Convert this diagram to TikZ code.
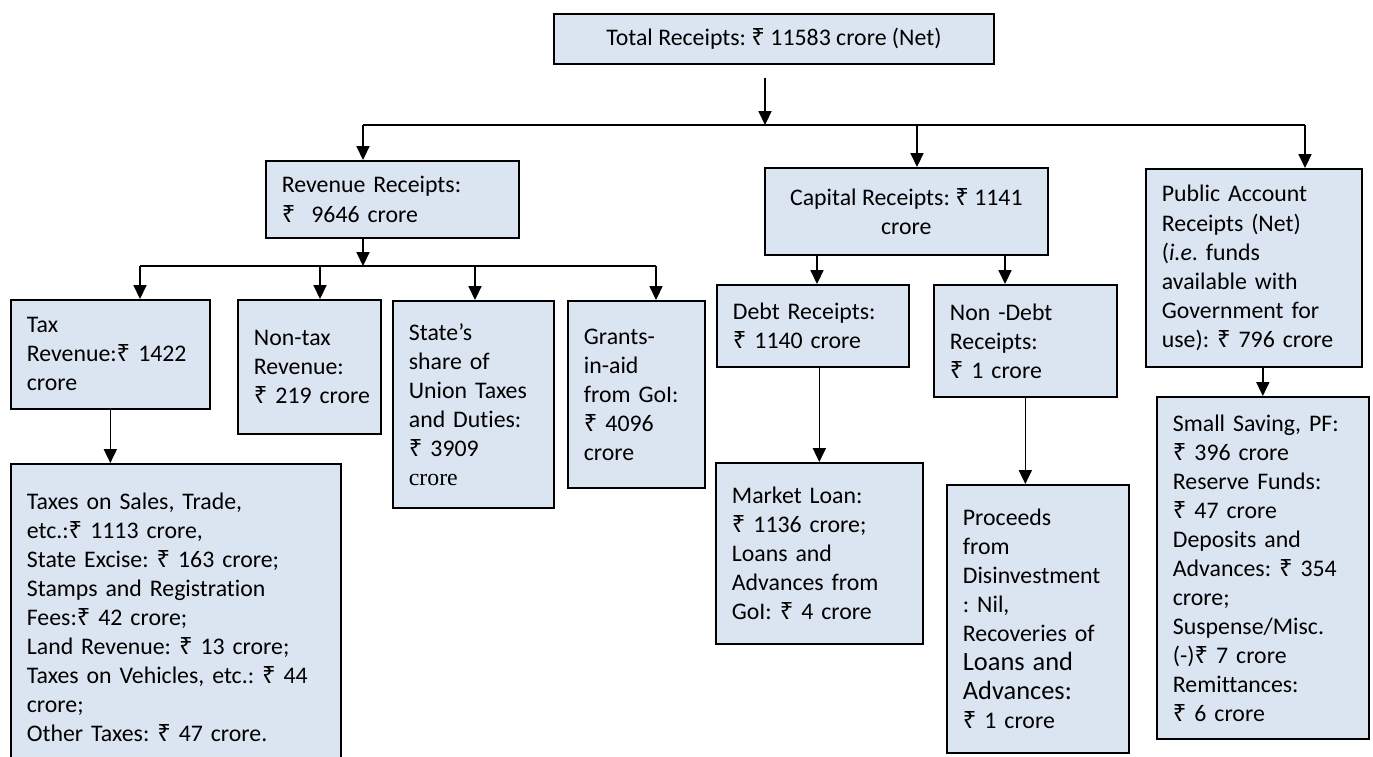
\documentclass[tikz,border=0pt]{standalone}
\usepackage{fontspec}
\setmainfont{Carlito}[Ligatures=NoCommon]
\newfontfamily\rupeefont{Noto Sans}
\newfontfamily\timesfont{Liberation Serif}
\newcommand\rs{{\rupeefont ₹}}
\usetikzlibrary{arrows.meta,positioning}
\definecolor{boxfill}{HTML}{DBE5F1}
\frenchspacing

\begin{document}
\begin{tikzpicture}[
    x=0.462pt, y=-0.462pt,
    font=\fontsize{11}{13.4}\selectfont,
    box/.style={draw, fill=boxfill, line width=0.8pt, align=left, anchor=north west, inner xsep=7.4pt, inner ysep=0pt},
    arr/.style={-{Triangle[length=6.4pt, width=6pt]}, line width=0.7pt},
    busline/.style={line width=0.7pt}
]
\useasboundingbox (0,0) rectangle (1373,756);

% top level
\node[box, align=center, minimum width=203.3pt, minimum height=23.1pt] (total) at (553,13) {Total Receipts: \rs~11583 crore (Net)};
\node[box, text width=102.1pt, minimum height=35.6pt] (rev) at (265,160) {Revenue Receipts:\\ \rs~~9646 crore};
\node[box, align=center, minimum width=130.7pt, minimum height=40.2pt] (cap) at (764,167) {Capital Receipts: \rs~1141\\ crore};
\node[box, text width=85.0pt, minimum height=91.5pt] (pub) at (1145,168) {Public Account\\ Receipts (Net)\\ (\textit{i.e}. funds\\ available with\\ Government for\\ use): \rs~796 crore};

% revenue receipts
\node[box, text width=77.1pt, minimum height=50.4pt] (tax) at (10,299) {Tax\\ Revenue:\rs~1422\\ crore};
\node[box, text width=51.3pt, minimum height=61.9pt] (nontax) at (237,299) {Non-tax\\ Revenue:\\ \rs~219~crore};
\node[box, text width=59.6pt, minimum height=95.6pt] (share) at (392,300) {State’s\\ share of\\ Union Taxes\\ and Duties:\\ \rs~3909\\ {\timesfont crore}};
\node[box, text width=48.5pt, minimum height=86.4pt] (grants) at (567,300) {Grants-\\ in-aid\\ from GoI:\\ \rs~4096\\ crore};
\node[box, text width=137.7pt, minimum height=141.8pt] (taxes) at (10,463) {Taxes on Sales, Trade,\\ etc.:\rs~1113 crore,\\ State Excise: \rs~163 crore;\\ Stamps and Registration\\ Fees:\rs~42 crore;\\ Land Revenue: \rs~13 crore;\\ Taxes on Vehicles, etc.: \rs~44\\ crore;\\ Other Taxes: \rs~47 crore.};

% capital receipts
\node[box, text width=73.9pt, minimum height=37.9pt] (debt) at (716,284) {Debt Receipts:\\ \rs~1140 crore};
\node[box, text width=69.7pt, minimum height=51.7pt] (nondebt) at (933,284) {Non -Debt\\ Receipts:\\ \rs~1 crore};
\node[box, text width=80.8pt, minimum height=83.6pt] (mkt) at (715,462) {Market Loan:\\ \rs~1136 crore;\\ Loans and\\ Advances from\\ GoI: \rs~4 crore};
\node[box, text width=69.3pt, minimum height=123.8pt] (proc) at (946,484) {Proceeds\\ from\\ Disinvestment\\ : Nil,\\ Recoveries of\\ {\fontsize{12.2}{13.4}\selectfont Loans and}\\ {\fontsize{12.2}{13.4}\selectfont Advances:}\\ \rs~1 crore};

% public account
\node[box, text width=83.1pt, minimum height=158pt] (small) at (1156,396) {Small Saving, PF:\\ \rs~396 crore\\ Reserve Funds:\\ \rs~47 crore\\ Deposits and\\ Advances: \rs~354\\ crore;\\ Suspense/Misc.\\ (-)\rs~7 crore\\ Remittances:\\ \rs~6 crore};

% connectors
\coordinate (hub) at (765,125);
\coordinate (busL) at (363,125);
\coordinate (busC) at (917,125);
\coordinate (busR) at (1305,125);
\draw[arr] (hub |- total.south) ++(0,13) -- (hub);
\draw[busline] (busL) -- (busR);
\draw[arr] (busL) -- (busL |- rev.north);
\draw[arr] (busC) -- (busC |- cap.north);
\draw[arr] (busR) -- (busR |- pub.north);

\coordinate (revhub) at (363,266);
\coordinate (subL) at (140,266);
\coordinate (subR) at (656,266);
\draw[arr] (revhub |- rev.south) -- (revhub);
\draw[busline] (subL) -- (subR);
\foreach \x/\n in {140/tax, 320/nontax, 475/share, 656/grants} {
  \coordinate (s\n) at (\x,266);
  \draw[arr] (s\n) -- (s\n |- \n.north);
}
\draw[arr] (tax.south) -- (tax.south |- taxes.north);

\foreach \x/\n in {817/debt, 1005/nondebt} {
  \coordinate (c\n) at (\x,254);
  \draw[arr] (c\n |- cap.south) -- (c\n |- \n.north);
}
\draw[arr] (mkt.north |- debt.south) -- (mkt.north);
\draw[arr] (nondebt.south) -- (nondebt.south |- proc.north);
\draw[arr] (small.north |- pub.south) -- (small.north);
\end{tikzpicture}
\end{document}
